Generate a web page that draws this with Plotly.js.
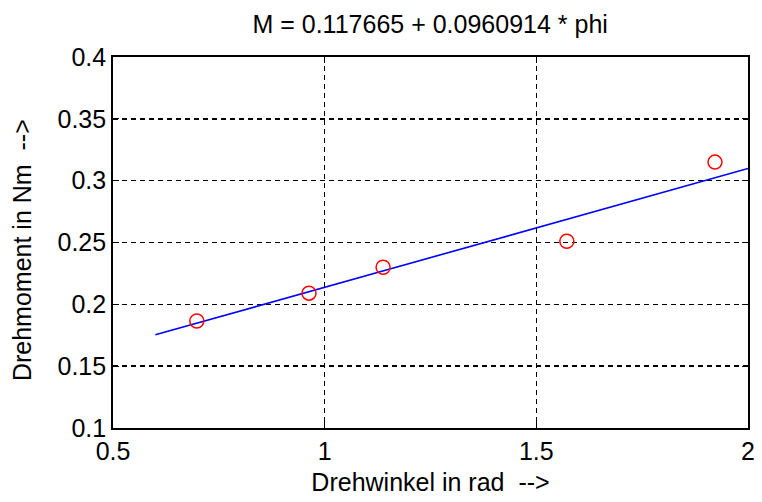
<!DOCTYPE html>
<html>
<head>
<meta charset="utf-8">
<script src="https://cdn.plot.ly/plotly-3.0.1.min.js"></script>
<style>html,body{margin:0;padding:0;background:#fff;}#chart{width:762px;height:502px;}</style>
</head>
<body>
<div id="chart"></div>
<script>
// Measured points
const phi = [0.698, 0.963, 1.138, 1.572, 1.922];
const moment = [0.1865, 0.209, 0.230, 0.251, 0.315];
// Fit coefficients (from title)
const intercept = 0.117665;
const slope = 0.0960914;
const fitRange = [0.6, 2.0];
const fitY = fitRange.map(p => intercept + slope * p);
const xTicks = [0.5, 1, 1.5, 2];
const xTickText = ['0.5', '1', '1.5', '2'];
const yTicks = [0.1, 0.15, 0.2, 0.25, 0.3, 0.35, 0.4];
const yTickText = ['0.1', '0.15', '0.2', '0.25', '0.3', '0.35', '0.4'];
const yLabel = 'Drehmoment in Nm  -->';

const font = {family: 'Liberation Sans, Arial, sans-serif', size: 25, color: '#000'};

const traces = [
  {x: fitRange, y: fitY, mode: 'lines', line: {color: '#0000ff', width: 1.6}, hoverinfo: 'skip'},
  {x: phi, y: moment, mode: 'markers', marker: {symbol: 'circle-open', size: 14, color: '#ff0000', line: {width: 1.5, color: '#ff0000'}}}
];

const axisCommon = {
  showline: true, linecolor: '#000', linewidth: 1.8, mirror: 'ticks',
  ticks: 'inside', ticklen: 6, tickcolor: '#000', tickwidth: 1.2,
  showgrid: true, gridcolor: '#000', gridwidth: 1.5, griddash: '5px,4px',
  zeroline: false, tickfont: font
};

const layout = {
  width: 762, height: 502,
  margin: {l: 113, r: 14, t: 57, b: 74},
  paper_bgcolor: '#fff', plot_bgcolor: '#fff',
  showlegend: false,
  font: font,
  title: {text: 'M = 0.117665 + 0.0960914 * phi', font: font, x: 0.5645, xref: 'container', xanchor: 'center', yref: 'container', y: 0.951, yanchor: 'middle'},
  xaxis: Object.assign({}, axisCommon, {
    range: [0.5, 2], tickvals: xTicks, ticktext: xTickText,
    title: {text: 'Drehwinkel in rad  -->', font: font, standoff: 10}
  }),
  yaxis: Object.assign({}, axisCommon, {
    range: [0.1, 0.4], tickvals: yTicks, ticktext: yTickText
  }),
  annotations: [{
    text: yLabel, font: font, textangle: -90, showarrow: false,
    xref: 'paper', yref: 'paper', x: -0.143, y: 0.48, xanchor: 'center', yanchor: 'middle'
  }]
};

Plotly.newPlot('chart', traces, layout, {displayModeBar: false, staticPlot: true});
</script>
</body>
</html>
